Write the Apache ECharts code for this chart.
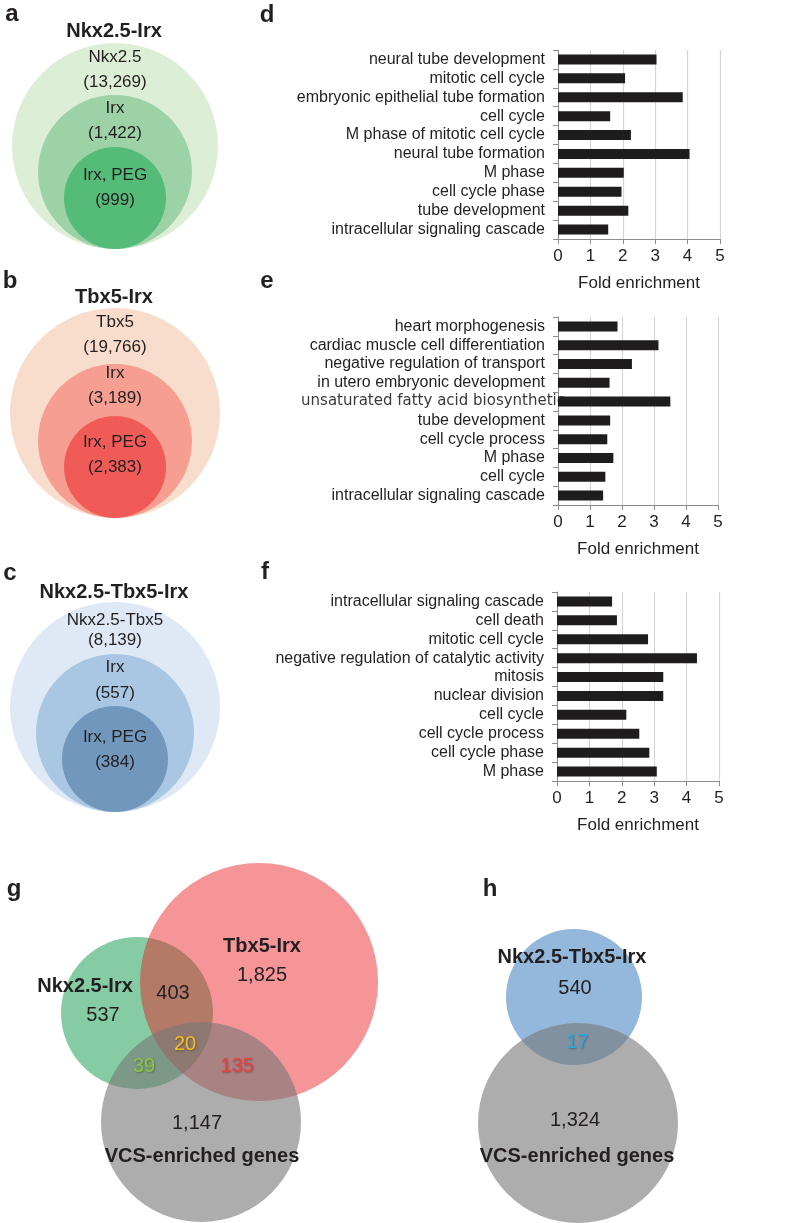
<!DOCTYPE html>
<html>
<head>
<meta charset="utf-8">
<script src="https://cdn.jsdelivr.net/npm/echarts@6/dist/echarts.min.js"></script>
<style>
  html, body { margin: 0; padding: 0; background: #fff; }
  #chart { width: 787px; height: 1223px; }
</style>
</head>
<body>
<div id="chart"></div>
<script>
// ---- data ----
const foldTicks = [0, 1, 2, 3, 4, 5]

const dTerms = ['neural tube development', 'mitotic cell cycle', 'embryonic epithelial tube formation',
  'cell cycle', 'M phase of mitotic cell cycle', 'neural tube formation', 'M phase',
  'cell cycle phase', 'tube development', 'intracellular signaling cascade']
const dFold = [3.04, 2.07, 3.85, 1.61, 2.25, 4.06, 2.03, 1.96, 2.17, 1.55]

const eTerms = ['heart morphogenesis', 'cardiac muscle cell differentiation', 'negative regulation of transport',
  'in utero embryonic development', 'unsaturated fatty acid biosynthetic', 'tube development',
  'cell cycle process', 'M phase', 'cell cycle', 'intracellular signaling cascade']
const eFold = [1.86, 3.14, 2.31, 1.61, 3.51, 1.63, 1.54, 1.73, 1.48, 1.41]

const fTerms = ['intracellular signaling cascade', 'cell death', 'mitotic cell cycle',
  'negative regulation of catalytic activity', 'mitosis', 'nuclear division', 'cell cycle',
  'cell cycle process', 'cell cycle phase', 'M phase']
const fFold = [1.70, 1.85, 2.81, 4.32, 3.28, 3.28, 2.14, 2.54, 2.85, 3.08]

// nested circles a-c: outer set, Irx, Irx+PEG
const nestedTitles = ['Nkx2.5-Irx', 'Tbx5-Irx', 'Nkx2.5-Tbx5-Irx']
const nestedSets = [['Nkx2.5', 'Irx', 'Irx, PEG'], ['Tbx5', 'Irx', 'Irx, PEG'], ['Nkx2.5-Tbx5', 'Irx', 'Irx, PEG']]
const nestedCounts = [[13269, 1422, 999], [19766, 3189, 2383], [8139, 557, 384]]

// venn g
const gSets = ['Nkx2.5-Irx', 'Tbx5-Irx', 'VCS-enriched genes']
const gOnly = [537, 1825, 1147]
const gPairs = [403, 39, 135] // Nkx∩Tbx, Nkx∩VCS, Tbx∩VCS
const gAll = 20

// venn h
const hSets = ['Nkx2.5-Tbx5-Irx', 'VCS-enriched genes']
const hOnly = [540, 1324]
const hBoth = 17

const panelLetters = ['a', 'b', 'c', 'd', 'e', 'f', 'g', 'h']

// ---- layout ----
const FONT = '"Liberation Sans", Arial, Helvetica, sans-serif'
const TXT = '#231f20'
const fmt = n => n.toLocaleString('en-US')

const letterPos = [[12, 14], [10, 281], [10, 573], [267, 15], [267, 281], [265, 572], [14, 889], [490, 889]]

const nestedLayout = [
  { cx: 115, titleY: 31, circles: [[146, 103], [172, 77], [198, 51]], textY: [[57, 82], [108, 133], [175, 200]] },
  { cx: 115, titleY: 297, circles: [[413, 105], [441, 77], [467, 51]], textY: [[322, 347], [373, 398], [442, 467]] },
  { cx: 115, titleY: 592, circles: [[707, 105], [733, 79], [759, 53]], textY: [[620, 640], [667, 693], [737, 762]] }
]
const nestedColors = [['#ddeed6', '#9dd2a6', '#55bb79'], ['#f8ddcd', '#f59e91', '#f05b57'], ['#dfe9f5', '#a9c7e3', '#7197bd']]

const gCircles = [[137, 1013, 76, '#85cca4', 1], [259, 982, 119, 'rgb(234,30,36)', 0.47], [201, 1122, 100, 'rgb(118,118,118)', 0.6]]
const hCircles = [[574, 997, 68, '#93b8db', 1], [578, 1123, 100, 'rgb(118,118,118)', 0.6]]

const chart = echarts.init(document.getElementById('chart'))

// circles
const circleData = []
nestedLayout.forEach((p, i) => {
  p.circles.forEach((c, j) => {
    circleData.push({ value: [p.cx, c[0]], symbolSize: c[1] * 2, itemStyle: { color: nestedColors[i][j], opacity: 1 } })
  })
})
gCircles.concat(hCircles).forEach(c => {
  circleData.push({ value: [c[0], c[1]], symbolSize: c[2] * 2, itemStyle: { color: c[3], opacity: c[4] } })
})

// texts
const textData = []
function addText(x, y, text, style) {
  textData.push({ value: [x, y], text: text, label: Object.assign({ fontSize: 17, color: TXT, fontFamily: FONT }, style || {}) })
}
const bold = { fontWeight: 'bold', fontSize: 20 }
panelLetters.forEach((l, i) => addText(letterPos[i][0], letterPos[i][1], l, { fontWeight: 'bold', fontSize: 24 }))
nestedLayout.forEach((p, i) => {
  addText(p.cx - 1, p.titleY, nestedTitles[i], bold)
  nestedSets[i].forEach((s, j) => {
    addText(p.cx, p.textY[j][0], s)
    addText(p.cx, p.textY[j][1], '(' + fmt(nestedCounts[i][j]) + ')')
  })
})
const shadow = { textShadowColor: 'rgba(0,0,0,0.3)', textShadowBlur: 2, textShadowOffsetX: 1, textShadowOffsetY: 1 }
addText(85, 986, gSets[0], bold)
addText(103, 1015, fmt(gOnly[0]), { fontSize: 20 })
addText(262, 946, gSets[1], bold)
addText(262, 975, fmt(gOnly[1]), { fontSize: 20 })
addText(202, 1156, gSets[2], bold)
addText(197, 1123, fmt(gOnly[2]), { fontSize: 20 })
addText(173, 993, fmt(gPairs[0]), { fontSize: 20 })
addText(144, 1066, fmt(gPairs[1]), Object.assign({ fontSize: 20, color: '#8dc63f' }, shadow))
addText(237, 1066, fmt(gPairs[2]), Object.assign({ fontSize: 20, color: '#e8403f' }, shadow))
addText(185, 1044, fmt(gAll), Object.assign({ fontSize: 20, color: '#f5be1e' }, shadow))

addText(572, 957, hSets[0], bold)
addText(575, 988, fmt(hOnly[0]), { fontSize: 20 })
addText(577, 1156, hSets[1], bold)
addText(575, 1120, fmt(hOnly[1]), { fontSize: 20 })
addText(577, 1042, fmt(hBoth), Object.assign({ fontSize: 20, color: '#29a9e0' }, shadow))

// bar panels
const barPanels = [
  { terms: dTerms, fold: dFold, grid: { left: 558, top: 50, width: 162, height: 189 } },
  { terms: eTerms, fold: eFold, grid: { left: 558, top: 317, width: 160, height: 188 } },
  { terms: fTerms, fold: fFold, grid: { left: 557, top: 592, width: 162, height: 189 } }
]
const clippedTerm = 'unsaturated fatty acid biosynthetic'
const AX = '#8c8c8c'

const grids = barPanels.map(p => p.grid).concat([{ left: 0, top: 0, width: 787, height: 1223 }])
const xAxes = barPanels.map((p, i) => ({
  gridIndex: i, type: 'value', min: foldTicks[0], max: foldTicks[foldTicks.length - 1], interval: 1,
  axisLine: { show: true, lineStyle: { color: AX } },
  axisTick: { show: true, length: 5, lineStyle: { color: AX } },
  axisLabel: { fontSize: 17, color: TXT, margin: 9, fontFamily: FONT },
  splitLine: { show: true, lineStyle: { color: '#d6d6d6', width: 1.2 } },
  name: 'Fold enrichment', nameLocation: 'middle', nameGap: 36,
  nameTextStyle: { fontSize: 17, color: TXT, fontFamily: FONT }
}))
const yAxes = barPanels.map((p, i) => ({
  gridIndex: i, type: 'category', inverse: true,
  // the clipped term runs under its bar, as in the source figure
  data: p.terms.map(t => t === clippedTerm
    ? { value: t, textStyle: { fontFamily: '"DejaVu Sans", sans-serif', fontSize: 15, color: '#3a3a3a', padding: [0, -20, 0, 0] } }
    : t),
  axisLine: { show: true, lineStyle: { color: AX } },
  axisTick: { show: true, length: 5, lineStyle: { color: AX } },
  axisLabel: { fontSize: 16, color: TXT, margin: 13, fontFamily: FONT, interval: 0 },
  splitLine: { show: false }
}))
xAxes.push({ gridIndex: 3, type: 'value', min: 0, max: 787, show: false })
yAxes.push({ gridIndex: 3, type: 'value', min: 0, max: 1223, inverse: true, show: false })

const series = barPanels.map((p, i) => ({
  type: 'bar', xAxisIndex: i, yAxisIndex: i, data: p.fold, barWidth: 10, silent: true, z: 3,
  itemStyle: { color: '#1e1c1d' }
}))
series.push({
  type: 'scatter', xAxisIndex: 3, yAxisIndex: 3, silent: true, z: 1,
  data: circleData
})
series.push({
  type: 'scatter', xAxisIndex: 3, yAxisIndex: 3, silent: true, z: 5, symbolSize: 0,
  itemStyle: { opacity: 1 },
  label: { show: true, position: 'inside', formatter: d => d.data.text },
  data: textData
})

chart.setOption({
  animation: false,
  grid: grids,
  xAxis: xAxes,
  yAxis: yAxes,
  series: series
})
</script>
</body>
</html>
